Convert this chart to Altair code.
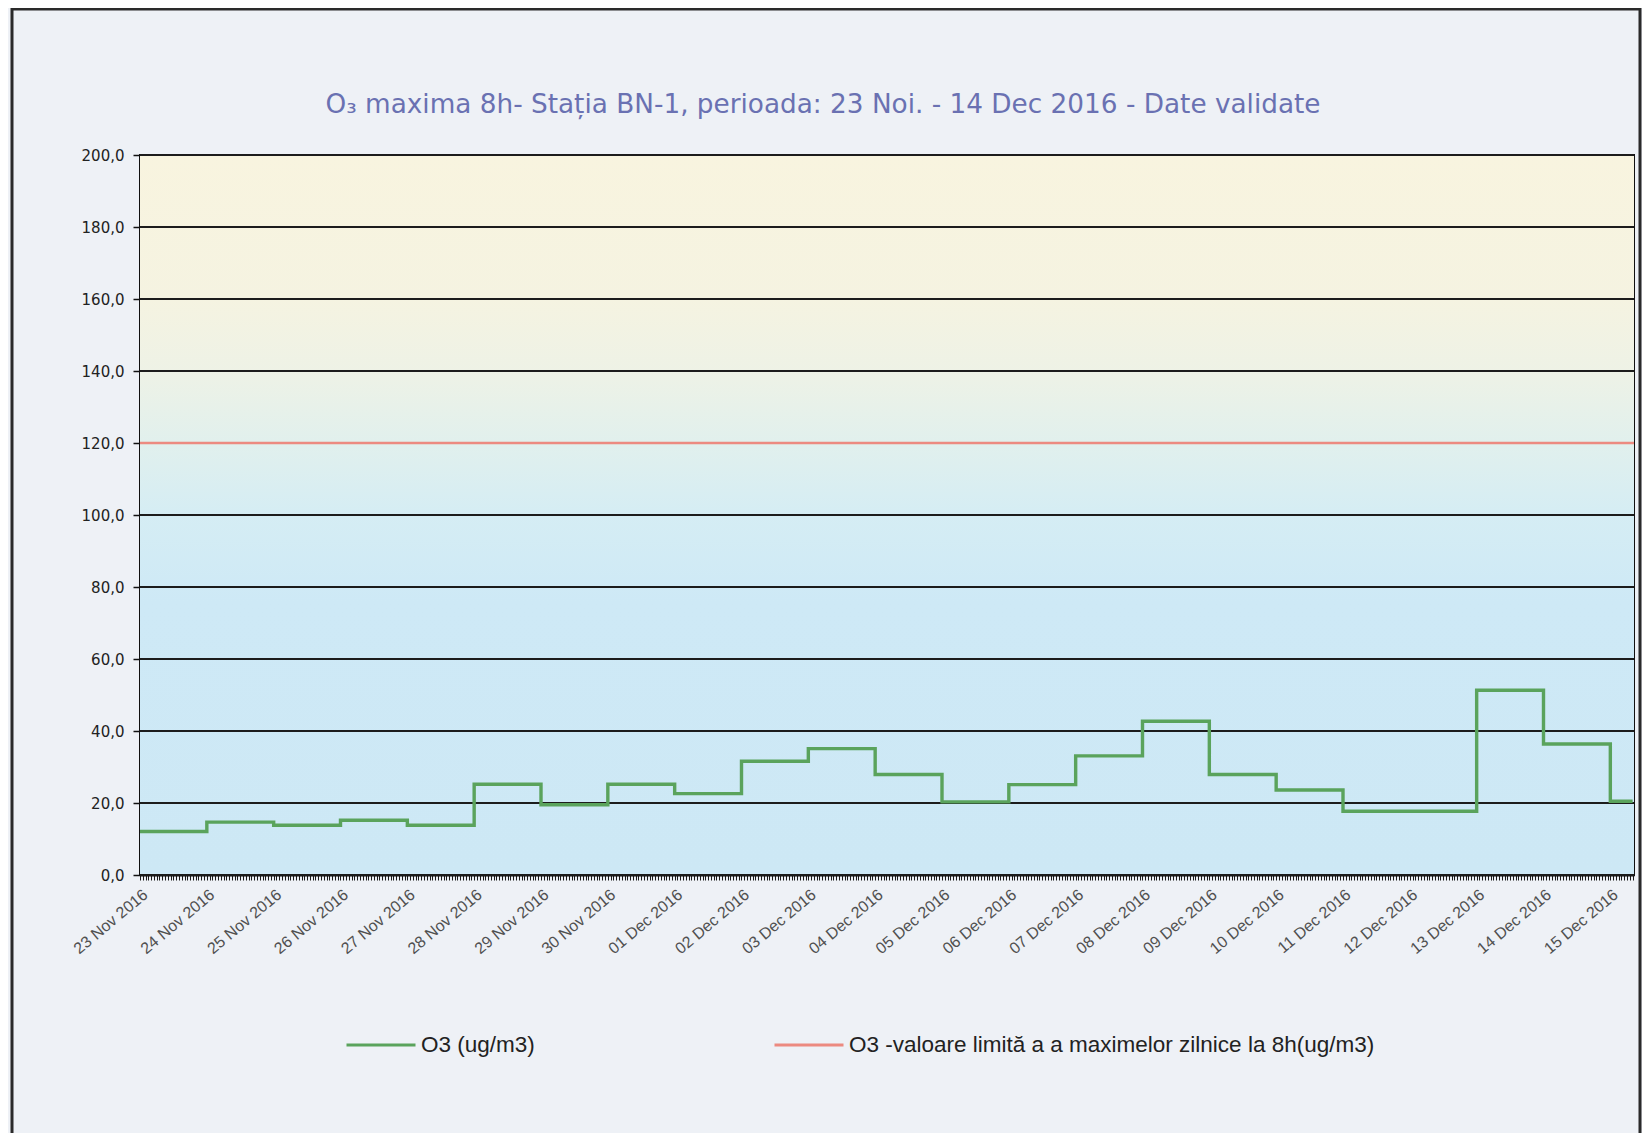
import altair as alt
import pandas as pd

# ---------------- data ----------------
dates = [
    "2016-11-23", "2016-11-24", "2016-11-25", "2016-11-26", "2016-11-27",
    "2016-11-28", "2016-11-29", "2016-11-30", "2016-12-01", "2016-12-02",
    "2016-12-03", "2016-12-04", "2016-12-05", "2016-12-06", "2016-12-07",
    "2016-12-08", "2016-12-09", "2016-12-10", "2016-12-11", "2016-12-12",
    "2016-12-13", "2016-12-14", "2016-12-15",
]
o3_values = [
    12.1, 14.7, 13.8, 15.2, 13.8,
    25.2, 19.5, 25.2, 22.6, 31.6,
    35.1, 27.9, 20.3, 25.1, 33.1,
    42.7, 27.9, 23.6, 17.7, 17.7,
    51.3, 36.4, 20.5,
]
series_end = "2016-12-15 08:00"      # last hourly reading of the series
axis_end = "2016-12-15 08:30"
limit_value = [120.0]
y_ticks = [0, 20, 40, 60, 80, 100, 120, 140, 160, 180, 200]

title_text = "O\u2083 maxima 8h- Stația BN-1, perioada: 23 Noi. - 14 Dec 2016 - Date validate"
label_o3 = "O3 (ug/m3)"
label_limit = "O3 -valoare limită a a maximelor zilnice la 8h(ug/m3)"


def ms(s):
    return int(pd.Timestamp(s, tz="UTC").timestamp() * 1000)


# ---------------- tables ----------------
line_df = pd.DataFrame({
    "t": [ms(d) for d in dates] + [ms(series_end)],
    "o3": o3_values + [o3_values[-1]],
    "series": [label_o3] * (len(dates) + 1),
})
limit_df = pd.DataFrame({"o3": limit_value, "series": [label_limit]})
grid_df = pd.DataFrame({"o3": y_ticks})
title_df = pd.DataFrame({"title": [title_text]})

# hourly tick positions of the time axis (labels only at midnight)
hour_ticks = list(range(ms(dates[0]), ms(axis_end) + 1, 3600 * 1000))

W, H = 1494, 720
font = "Liberation Sans"

x_scale = alt.Scale(type="utc", domain=[ms(dates[0]), ms(axis_end)], nice=False)
y_scale = alt.Scale(domain=[0, 200], nice=False, zero=True)

y_axis = alt.Axis(
    values=y_ticks,
    labelExpr="replace(format(datum.value, '.1f'), '.', ',')",
    labelFont="DejaVu Sans", labelFontSize=15, labelColor="#222222",
    tickSize=7, tickColor="#111111", tickWidth=1.5,
    domainColor="#111111", domainWidth=2, grid=False, labelPadding=9,
    title=None,
)

# background gradient of the plot area
grad = alt.Chart(alt.Data(values=[{"a": 1}])).mark_rect(
    fill=alt.Gradient(
        gradient="linear", x1=0, x2=0, y1=0, y2=1,
        stops=[
            alt.GradientStop(offset=0.0, color="#f8f4df"),
            alt.GradientStop(offset=0.2, color="#f5f3e1"),
            alt.GradientStop(offset=0.3, color="#eef2e6"),
            alt.GradientStop(offset=0.4, color="#e1f0ed"),
            alt.GradientStop(offset=0.5, color="#d5edf4"),
            alt.GradientStop(offset=0.62, color="#cee9f6"),
            alt.GradientStop(offset=1.0, color="#cde8f5"),
        ],
    )
).encode(x=alt.value(0), x2=alt.value(W), y=alt.value(0), y2=alt.value(H))

grid = alt.Chart(grid_df).mark_rule(color="#1c1c1c", strokeWidth=2).encode(
    y=alt.Y("o3:Q", scale=y_scale, axis=y_axis)
)

limit = alt.Chart(limit_df).mark_rule(strokeWidth=2.4).encode(
    y=alt.Y("o3:Q", scale=y_scale, axis=y_axis),
    color=alt.Color(
        "series:N",
        scale=alt.Scale(domain=[label_limit], range=["#ec8a80"]),
        legend=alt.Legend(
            orient="none", legendX=633, legendY=854, title=None,
            symbolType="stroke", symbolSize=4761, symbolStrokeWidth=3,
            labelFont=font, labelFontSize=22.5, labelColor="#222222", labelLimit=900,
        ),
    ),
)

line = alt.Chart(line_df).mark_line(interpolate="step-after", strokeWidth=3.4).encode(
    x=alt.X(
        "t:T", scale=x_scale, title=None,
        axis=alt.Axis(
            values=hour_ticks,
            labelExpr="utchours(datum.value) == 0 ? utcFormat(datum.value, '%d %b %Y') : ''",
            labelAngle=-40, labelFont=font, labelFontSize=16, labelColor="#505050",
            labelPadding=6, tickSize=5, tickColor="#1a1a1a", tickWidth=1,
            domainColor="#111111", domainWidth=2, grid=False,
            labelOverlap=False, labelFlush=False, labelBound=False,
        ),
    ),
    y=alt.Y("o3:Q", scale=y_scale, axis=y_axis),
    color=alt.Color(
        "series:N",
        scale=alt.Scale(domain=[label_o3], range=["#5aa35c"]),
        legend=alt.Legend(
            orient="none", legendX=205, legendY=854, title=None,
            symbolType="stroke", symbolSize=4761, symbolStrokeWidth=3,
            labelFont=font, labelFontSize=22.5, labelColor="#222222", labelLimit=400,
        ),
    ),
)

# chart title, drawn as text above the plot
title = alt.Chart(title_df).mark_text(
    font="DejaVu Sans", fontSize=26.3, color="#6a71b2", align="center", baseline="middle"
).encode(text="title:N", x=alt.value(683), y=alt.value(-50))

# outer frame of the figure
frame = alt.Chart(alt.Data(values=[{"a": 1}])).mark_rect(
    fillOpacity=0, stroke="#2a2a2a", strokeWidth=3
).encode(x=alt.value(-128), x2=alt.value(1500), y=alt.value(-146), y2=alt.value(1000))

chart = (
    alt.layer(grad, grid, limit, line, title, frame)
    .resolve_scale(color="independent")
    .properties(
        width=W, height=H,
        autosize=alt.AutoSizeParams(type="none"),
        padding={"left": 132, "top": 147, "right": 8, "bottom": 258},
        background="#eef1f6",
    )
    .configure_view(stroke="#111111", strokeWidth=2)
)

chart.save("out.html", embed_options={"renderer": "svg", "actions": False})
